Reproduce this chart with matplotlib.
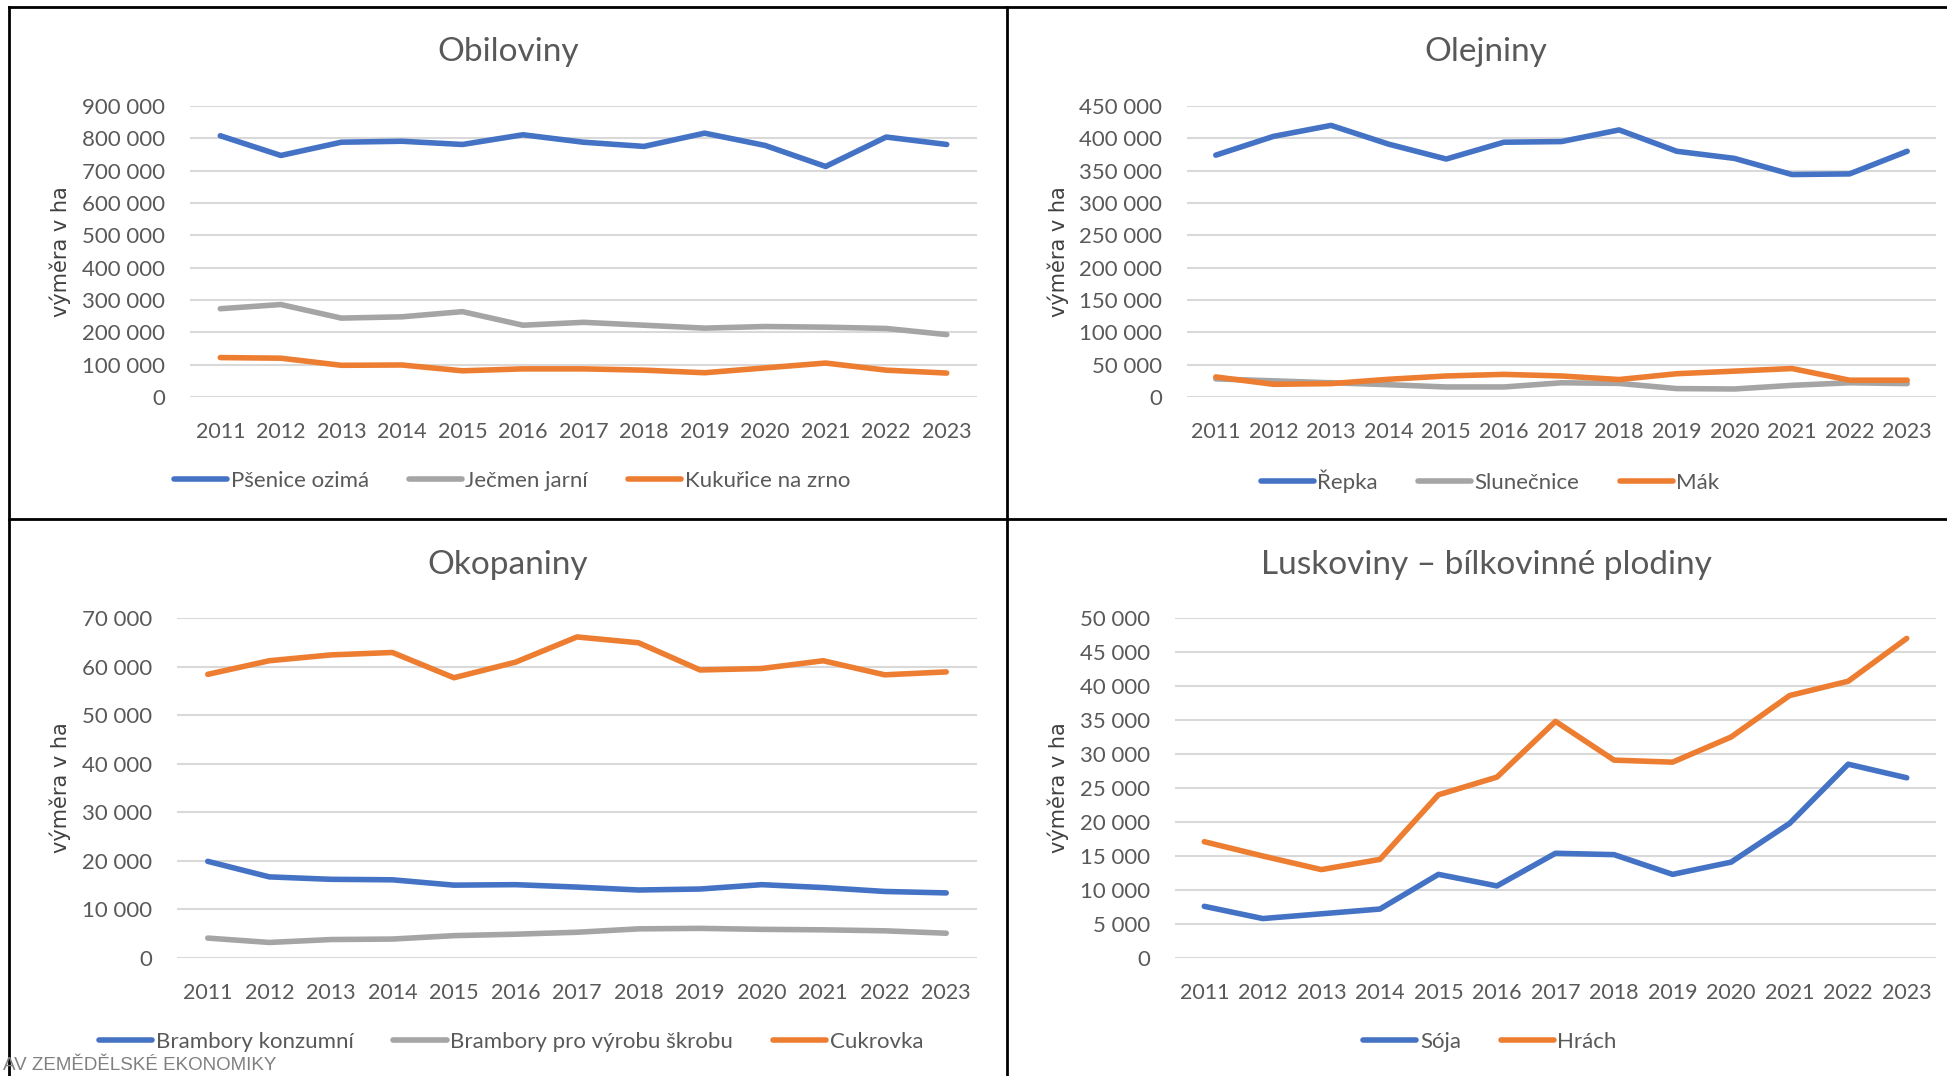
import numpy as np
import matplotlib.pyplot as plt
from matplotlib.ticker import FuncFormatter, MultipleLocator
from matplotlib.lines import Line2D

plt.rcParams['font.family'] = ['Lato', 'DejaVu Sans']

years = [str(y) for y in range(2011, 2024)]

# Obiloviny
psenice = [808000, 747000, 788000, 791000, 781000, 811000, 788000, 775000, 816000, 778000, 713000, 804000, 781000]
jecmen = [273000, 286000, 244000, 248000, 264000, 222000, 231000, 222000, 213000, 218000, 216000, 212000, 193000]
kukurice = [122000, 120000, 98000, 99000, 81000, 87000, 87000, 83000, 75000, 90000, 105000, 83000, 74000]

# Olejniny
repka = [374000, 403000, 420000, 391000, 368000, 394000, 395000, 413000, 380000, 369000, 344000, 345000, 380000]
slunecnice = [28000, 25000, 22000, 19000, 15500, 15500, 22000, 21000, 13000, 12400, 18000, 22000, 20700]
mak = [31000, 19600, 20700, 27400, 32500, 35000, 32500, 27000, 36000, 40000, 44000, 26000, 26000]

# Okopaniny
brambory_konz = [19900, 16700, 16200, 16100, 15000, 15100, 14600, 14000, 14200, 15100, 14500, 13700, 13400]
brambory_skrob = [4100, 3200, 3800, 3900, 4600, 4900, 5300, 6000, 6100, 5900, 5800, 5600, 5100]
cukrovka = [58400, 61200, 62400, 62900, 57700, 60900, 66100, 64900, 59300, 59600, 61200, 58300, 58900]

# Luskoviny
soja = [7600, 5800, 6500, 7200, 12300, 10600, 15400, 15200, 12300, 14100, 19800, 28500, 26500]
hrach = [17100, 15000, 13000, 14500, 24000, 26600, 34800, 29100, 28800, 32500, 38600, 40700, 47000]

BLUE = '#4472C4'
GRAY = '#A5A5A5'
ORANGE = '#ED7D31'
TXT = '#595959'

W, H = 1947, 1076
fig = plt.figure(figsize=(W / 100, H / 100), dpi=100)


def fx(px):
    return px / W


def fy(py):
    return 1 - py / H


def space_fmt(v, pos):
    return f"{int(round(v)):,}".replace(",", " ")


def panel(box, title, title_xy, series, ymax, step, ylabel_xy, legend_xy):
    x0, x1, y0, y1 = box
    ax = fig.add_axes([fx(x0), fy(y1), fx(x1 - x0), (y1 - y0) / H])
    x = np.arange(len(years))
    for vals, color, name in series:
        ax.plot(x, vals, color=color, lw=4, solid_capstyle='round',
                solid_joinstyle='round', label=name)
    ax.set_xlim(-0.5, len(years) - 0.5)
    ax.set_ylim(0, ymax)
    ax.yaxis.set_major_locator(MultipleLocator(step))
    ax.yaxis.set_major_formatter(FuncFormatter(space_fmt))
    ax.set_xticks(x)
    ax.set_xticklabels(years)
    ax.grid(axis='y', color='#D9D9D9', lw=1.5)
    ax.set_axisbelow(True)
    for s in ax.spines.values():
        s.set_visible(False)
    ax.tick_params(axis='both', length=0, colors=TXT)
    ax.tick_params(axis='y', pad=18, labelsize=16)
    ax.tick_params(axis='x', pad=18, labelsize=15.5)
    fig.text(fx(title_xy[0]), fy(title_xy[1]), title, ha='center', va='center',
             fontsize=24, color=TXT)
    fig.text(fx(ylabel_xy[0]), fy(ylabel_xy[1]), 'výměra v ha', rotation=90,
             ha='center', va='center', fontsize=15, color='#404040',
             family='DejaVu Sans')
    handles = [Line2D([], [], color=c, lw=4, solid_capstyle='round') for _, c, _ in series]
    names = [n for _, _, n in series]
    fig.legend(handles, names, loc='center', ncol=len(series),
               bbox_to_anchor=(fx(legend_xy[0]), fy(legend_xy[1])),
               frameon=False, fontsize=16, labelcolor=TXT,
               handlelength=2.4, handletextpad=0.15, columnspacing=1.8)
    return ax


panel((190, 977, 106, 397), 'Obiloviny', (508, 52),
      [(psenice, BLUE, 'Pšenice ozimá'), (jecmen, GRAY, 'Ječmen jarní'),
       (kukurice, ORANGE, 'Kukuřice na zrno')],
      900000, 100000, (60, 252), (512, 481))

panel((1187, 1936, 106, 397), 'Olejniny', (1486, 52),
      [(repka, BLUE, 'Řepka'), (slunecnice, GRAY, 'Slunečnice'),
       (mak, ORANGE, 'Mák')],
      450000, 50000, (1058, 252), (1490, 481))

panel((177, 977, 618, 958), 'Okopaniny', (508, 565),
      [(brambory_konz, BLUE, 'Brambory konzumní'),
       (brambory_skrob, GRAY, 'Brambory pro výrobu škrobu'),
       (cukrovka, ORANGE, 'Cukrovka')],
      70000, 10000, (60, 788), (511, 1042))

panel((1175, 1936, 618, 958), 'Luskoviny – bílkovinné plodiny', (1486, 565),
      [(soja, BLUE, 'Sója'), (hrach, ORANGE, 'Hrách')],
      50000, 5000, (1058, 788), (1490, 1042))

# panel borders
fig.add_artist(Line2D([fx(9), fx(9)], [fy(7), 0], color='black', lw=2))
fig.add_artist(Line2D([fx(9), 1], [fy(7), fy(7)], color='black', lw=2))
fig.add_artist(Line2D([fx(1007), fx(1007)], [fy(7), 0], color='black', lw=2))
fig.add_artist(Line2D([fx(9), 1], [fy(519), fy(519)], color='black', lw=2))

fig.text(fx(3), fy(1065), 'AV ZEMĚDĚLSKÉ EKONOMIKY', ha='left', va='center',
         fontsize=13.5, color='#808080', family='Liberation Sans')

fig.savefig('out.png', dpi=100)
